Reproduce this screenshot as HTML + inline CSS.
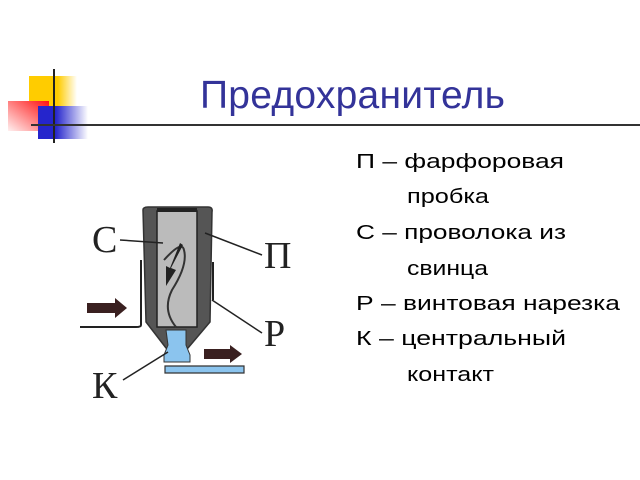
<!DOCTYPE html>
<html><head><meta charset="utf-8"><style>html,body{margin:0;padding:0;background:#fff}svg{display:block}</style></head>
<body>
<svg width="640" height="480" viewBox="0 0 640 480" xmlns="http://www.w3.org/2000/svg">
<defs>
<linearGradient id="gy" x1="0" x2="1"><stop offset="0.6" stop-color="#ffcc00"/><stop offset="1" stop-color="#fff"/></linearGradient>
<linearGradient id="gr" x1="1" x2="0" y1="0" y2="1"><stop offset="0" stop-color="#ff1010"/><stop offset="1" stop-color="#fff0f0"/></linearGradient>
<linearGradient id="gb" x1="0" x2="1"><stop offset="0.35" stop-color="#2525cc"/><stop offset="1" stop-color="#fff"/></linearGradient>
</defs>
<rect x="29" y="76" width="48" height="31" fill="url(#gy)"/>
<rect x="8" y="101" width="41" height="30" fill="url(#gr)"/>
<rect x="38" y="106" width="50" height="33" fill="url(#gb)"/>
<line x1="54" y1="69" x2="54" y2="143" stroke="#222" stroke-width="2"/>
<line x1="31" y1="125" x2="640" y2="125" stroke="#333" stroke-width="2"/>
<text x="200" y="108" font-family="Liberation Sans, sans-serif" font-size="39" fill="#333399" textLength="305">Предохранитель</text>
<g font-family="Liberation Sans, sans-serif" font-size="20" fill="#000" lengthAdjust="spacingAndGlyphs">
<text x="356" y="168" textLength="208" lengthAdjust="spacingAndGlyphs">П – фарфоровая</text>
<text x="407" y="203" textLength="82" lengthAdjust="spacingAndGlyphs">пробка</text>
<text x="356" y="239" textLength="210" lengthAdjust="spacingAndGlyphs">С – проволока из</text>
<text x="407" y="275" textLength="81" lengthAdjust="spacingAndGlyphs">свинца</text>
<text x="356" y="310" textLength="264" lengthAdjust="spacingAndGlyphs">Р – винтовая нарезка</text>
<text x="356" y="345" textLength="210" lengthAdjust="spacingAndGlyphs">К – центральный</text>
<text x="407" y="381" textLength="87" lengthAdjust="spacingAndGlyphs">контакт</text>
</g>
<!-- fuse -->
<path d="M143 210 Q143 207 148 207 L208 207 Q213 207 212 212 L210 322 L188 348 L166 348 L146 322 Z" fill="#555" stroke="#333" stroke-width="1.5"/>
<rect x="157" y="211" width="40" height="116" fill="#bbb" stroke="#222" stroke-width="1.5"/>
<rect x="157" y="208" width="40" height="4" fill="#222"/>
<path d="M166 330 L186 330 L186 345 L190 355 L190 362 L164 362 L164 355 L168 345 Z" fill="#8bc4ee" stroke="#333" stroke-width="1"/>
<path d="M165 366 L244 366 L244 373 L165 373 Z" fill="#8bc4ee" stroke="#333" stroke-width="1.2"/>
<path d="M164 260 Q182 240 184 250 Q188 265 172 290 Q162 310 176 327" fill="none" stroke="#333" stroke-width="2"/>
<path d="M183 245 L171 268 L176 270 L166 286 L166 266 L170 268 L180 243 Z" fill="#222"/>
<path d="M141 260 L141 325 Q141 327 136 327 L80 327" fill="none" stroke="#222" stroke-width="2"/>
<path d="M213 262 L213 300" fill="none" stroke="#222" stroke-width="2"/>
<path d="M87 303 L115 303 L115 298 L127 308 L115 318 L115 313 L87 313 Z" fill="#3a2020"/>
<path d="M204 349 L230 349 L230 345 L242 354 L230 363 L230 359 L204 359 Z" fill="#3a2020"/>
<line x1="120" y1="240" x2="163" y2="243" stroke="#222" stroke-width="1.5"/>
<line x1="205" y1="233" x2="262" y2="255" stroke="#222" stroke-width="1.5"/>
<line x1="212" y1="300" x2="262" y2="333" stroke="#222" stroke-width="1.5"/>
<line x1="123" y1="380" x2="168" y2="352" stroke="#222" stroke-width="1.5"/>
<g font-family="Liberation Serif, serif" font-size="38" fill="#222">
<text x="92" y="252">С</text>
<text x="264" y="268">П</text>
<text x="264" y="346">Р</text>
<text x="92" y="398">К</text>
</g>
</svg>
</body></html>
